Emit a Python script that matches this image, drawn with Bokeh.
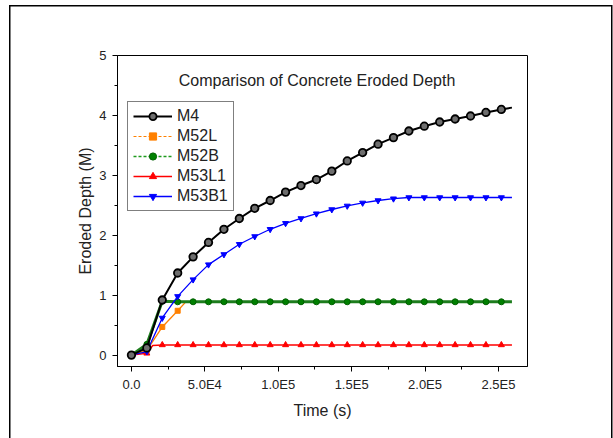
from bokeh.plotting import figure
from bokeh.models import Range1d, FixedTicker, Legend, LegendItem, Label
from bokeh.embed import file_html
from bokeh.resources import INLINE

# ---------------- data ----------------
t_m4 = [0, 10500, 21000, 31500, 42000, 52500, 63000, 73500, 84000, 94500,
        105000, 115500, 126000, 136500, 147000, 157500, 168000, 178500, 189000,
        199500, 210000, 220500, 231000, 241500, 252000, 259200]
m4 = [0.0, 0.12, 0.92, 1.37, 1.64, 1.88, 2.10, 2.28, 2.45, 2.58,
      2.72, 2.83, 2.93, 3.07, 3.24, 3.38, 3.52, 3.63, 3.74,
      3.82, 3.89, 3.94, 3.99, 4.05, 4.10, 4.13]

t_m52l = [0, 10500, 21000, 31500, 37500]
m52l = [0.0, 0.08, 0.47, 0.74, 0.90]

t_m52b = t_m4
m52b = [0.0, 0.18, 0.90, 0.89, 0.89, 0.89, 0.89, 0.89, 0.89, 0.89,
        0.89, 0.89, 0.89, 0.89, 0.89, 0.89, 0.89, 0.89, 0.89,
        0.89, 0.89, 0.89, 0.89, 0.89, 0.89, 0.89]

t_m53l1 = [0, 10500, 14500, 21000, 31500, 42000, 52500, 63000, 73500, 84000, 94500,
           105000, 115500, 126000, 136500, 147000, 157500, 168000, 178500, 189000,
           199500, 210000, 220500, 231000, 241500, 252000, 259200]
m53l1 = [0.0, 0.03, 0.16, 0.17, 0.17, 0.17, 0.17, 0.17, 0.17, 0.17, 0.17,
         0.17, 0.17, 0.17, 0.17, 0.17, 0.17, 0.17, 0.17, 0.17,
         0.17, 0.17, 0.17, 0.17, 0.17, 0.17, 0.17]

t_m53b1 = t_m4
m53b1 = [0.0, 0.06, 0.62, 0.98, 1.26, 1.51, 1.68, 1.85, 1.98, 2.10,
         2.20, 2.28, 2.36, 2.43, 2.49, 2.54, 2.58, 2.61, 2.63,
         2.63, 2.63, 2.63, 2.63, 2.63, 2.63, 2.63]

x_ticks = [0, 50000, 100000, 150000, 200000, 250000]
x_tick_labels = ["0.0", "5.0E4", "1.0E5", "1.5E5", "2.0E5", "2.5E5"]
x_minor = [25000, 75000, 125000, 175000, 225000]
y_ticks = [0, 1, 2, 3, 4, 5]
y_tick_labels = ["0", "1", "2", "3", "4", "5"]
y_minor = [0.5, 1.5, 2.5, 3.5, 4.5]

title_text = "Comparison of Concrete Eroded Depth"
x_label = "Time (s)"
y_label = "Eroded Depth (M)"

MARK_STEP = 10500
T_LAST_MARK = 252000

FONT = "Liberation Sans"

p = figure(width=613, height=438, output_backend="svg", toolbar_location=None,
           x_range=Range1d(-9500, 269800), y_range=Range1d(-0.19, 5.0),
           min_border_left=117, min_border_right=86, min_border_top=55,
           min_border_bottom=72)
p.xgrid.visible = False
p.ygrid.visible = False
p.outline_line_color = "black"
p.outline_line_width = 1
p.background_fill_color = "white"
p.border_fill_alpha = 0
# outer picture border (left, top and right edges), drawn behind the canvas
p.styles = {
    "background": ("linear-gradient(#000,#000) 9px 5px / 1.5px 440px no-repeat, "
                   "linear-gradient(#000,#000) 9px 5px / 603px 1.5px no-repeat, "
                   "linear-gradient(#000,#000) 610.5px 5px / 1.5px 440px no-repeat, "
                   "#ffffff"),
}

p.xaxis.ticker = FixedTicker(ticks=x_ticks, minor_ticks=x_minor)
p.yaxis.ticker = FixedTicker(ticks=y_ticks, minor_ticks=y_minor)
p.xaxis.major_label_overrides = {t: l for t, l in zip(x_ticks, x_tick_labels)}
p.yaxis.major_label_overrides = {t: l for t, l in zip(y_ticks, y_tick_labels)}
for ax in (p.xaxis, p.yaxis):
    ax.axis_line_color = "black"
    ax.major_tick_line_color = "black"
    ax.minor_tick_line_color = "black"
    ax.major_tick_out = 5
    ax.major_tick_in = 0
    ax.minor_tick_out = 3
    ax.minor_tick_in = 0
    ax.major_label_text_font = FONT
    ax.major_label_text_font_size = "13px"
    ax.major_label_text_color = "#222222"
    ax.axis_label_text_font = FONT
    ax.axis_label_text_font_size = "16px"
    ax.axis_label_text_font_style = "normal"
    ax.axis_label_text_color = "#222222"
p.xaxis.axis_label = x_label
p.yaxis.axis_label = y_label
p.xaxis.major_label_standoff = 5
p.yaxis.major_label_standoff = 6
p.xaxis.axis_label_standoff = 7
p.yaxis.axis_label_standoff = 2


def marks(ts, vs):
    xs, ys = [], []
    for t, v in zip(ts, vs):
        if t % MARK_STEP == 0 and t <= T_LAST_MARK:
            xs.append(t)
            ys.append(v)
    return xs, ys


# plotted series
p.line(t_m52l, m52l, line_color="#ff8000", line_width=1.3)
x, y = marks(t_m52l, m52l)
p.scatter(x, y, marker="square", size=5, fill_color="#ff8000", line_color="#ff8000")

p.line(t_m52b, m52b, line_color="#1d7d1d", line_width=3)
x, y = marks(t_m52b, m52b)
p.scatter(x, y, marker="circle", size=6, fill_color="#008000", line_color="#006000")

p.line(t_m53l1, m53l1, line_color="#ff0000", line_width=1.4)
x, y = marks(t_m53l1, m53l1)
p.scatter(x, y, marker="triangle", size=6, fill_color="#ff0000", line_color="#ff0000")

p.line(t_m53b1, m53b1, line_color="#0000ff", line_width=1.3)
x, y = marks(t_m53b1, m53b1)
p.scatter(x, y, marker="inverted_triangle", size=6, fill_color="#0000ff", line_color="#0000ff")

p.line(t_m4, m4, line_color="black", line_width=2)
x, y = marks(t_m4, m4)
p.scatter(x, y, marker="circle", size=7.5, fill_color="#6e6e6e", line_color="black", line_width=1.8)

# legend sample glyphs (no data shown)
nan = [float("nan")]
items = []
specs = [
    ("M4", "black", None, 2, "circle", 7, "#6e6e6e", "black", 1.8),
    ("M52L", "#ff8000", "3 2", 1, "square", 5, "#ff8000", "#ff8000", 1),
    ("M52B", "#1d9a1d", "3 2", 1.5, "circle", 6, "#008000", "#006000", 1),
    ("M53L1", "#ff0000", None, 1.4, "triangle", 6, "#ff0000", "#ff0000", 1),
    ("M53B1", "#0000ff", None, 1.3, "inverted_triangle", 6, "#0000ff", "#0000ff", 1),
]
for name, lc, dash, lw, mk, sz, fc, mlc, mlw in specs:
    if dash:
        lr = p.line(nan, nan, line_color=lc, line_width=lw, line_dash=dash)
    else:
        lr = p.line(nan, nan, line_color=lc, line_width=lw)
    sr = p.scatter(nan, nan, marker=mk, size=sz, fill_color=fc, line_color=mlc, line_width=mlw)
    items.append(LegendItem(label=name, renderers=[lr, sr]))

legend = Legend(items=items, location=(10, 155), margin=0, padding=5, spacing=2,
                label_height=18, glyph_height=18, glyph_width=39, label_standoff=5,
                label_text_font=FONT, label_text_font_size="16px", label_text_color="#222222",
                border_line_color="black", border_line_width=1,
                background_fill_color="white", background_fill_alpha=1)
p.add_layout(legend)

p.add_layout(Label(x=126400, y=4.59, text=title_text, text_align="center",
                   text_baseline="alphabetic", text_font=FONT, text_font_size="16px",
                   text_color="#222222"))

open("out.html", "w").write(file_html(p, INLINE))
